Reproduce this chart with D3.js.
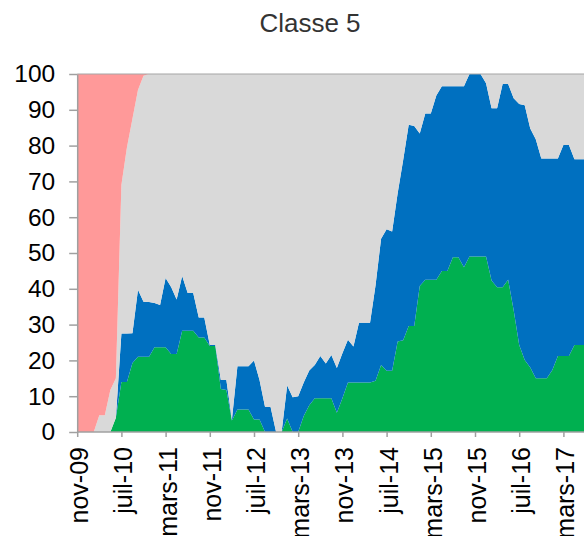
<!DOCTYPE html>
<html><head><meta charset="utf-8">
<script src="https://cdn.jsdelivr.net/npm/d3@7/dist/d3.min.js"></script>
<style>body{margin:0;background:#fff} svg{display:block}</style>
</head><body><svg id="c" width="584" height="536"></svg>
<script>
const title = "Classe 5";
const tickLabels = ["nov-09","juil-10","mars-11","nov-11","juil-12","mars-13","nov-13","juil-14","mars-15","nov-15","juil-16","mars-17"];
const yTicks = [0,10,20,30,40,50,60,70,80,90,100];
const green = [0,0,0,0,0,0,0,4,14,14,19.3,21,21,21,23.7,23.7,23.7,21.8,21.8,28.3,28.3,28.3,26.4,26.4,24,24,12,11.7,3.2,6.3,6.3,6.3,3.5,3.5,0,0,0,0,3.8,0,0,4.5,7.5,9.4,9.4,9.4,9.4,5.4,9.4,13.8,13.8,13.8,13.8,13.8,14.3,18.7,17.1,17.1,25.3,25.6,29.6,29.6,40.8,42.5,42.5,42.5,45,45,48.8,48.8,46,49,49,49,49,42.3,40.4,40.4,42.5,34,24.3,20.1,18,15,15,15,17.3,21.2,21.2,21.2,24.3,24.3,24.3];
const blue = [0,0,0,0,0,0,0,0,13.5,13.5,8.3,18.7,15.4,15.3,12.3,11.8,19.3,18.7,15.2,15.3,10.5,10.5,5.6,5.6,0.3,0.3,2.5,2.8,0.2,12.1,12.1,12.1,16.5,11,7,7,0,0,9.2,9.7,10,9.3,9.7,9.3,11.8,9.7,12.1,12.5,12.6,12,10.1,16.7,16.7,16.7,26.7,35.3,39.5,38.9,41.4,50.4,56.2,55.9,42.6,46.5,46.5,51.5,51.6,51.6,47.8,47.8,50.6,51,51,51,48.4,48.1,50,56.8,54.7,59.2,67.3,71.2,66.8,66.8,61.4,61.4,59.1,55.2,59,59,51.9,51.9,51.9];
const gray = [0,0,0,0,4.7,4.7,11.7,11,41.5,52,59.9,55.8,63.1,63.7,64,64.5,57,59.5,63,56.4,61.2,61.2,68,68,75.7,75.7,85.5,85.5,96.6,81.6,81.6,81.6,80,85.5,93,93,100,100,87,90.3,90,86.2,82.8,81.3,78.8,80.9,78.5,82.1,78,74.2,76.1,69.5,69.5,69.5,59,46,43.4,44,33.3,24,14.2,14.5,16.6,11,11,6,3.4,3.4,3.4,3.4,3.4,0,0,0,2.6,9.6,9.6,2.8,2.8,6.8,8.4,8.7,15.2,18.2,23.6,23.6,23.6,23.6,19.8,19.8,23.8,23.8,23.8];
const pink = [100,100,100,100,95.3,95.3,88.3,85,31,20.5,12.5,4.5,0.5,0,0,0,0,0,0,0,0,0,0,0,0,0,0,0,0,0,0,0,0,0,0,0,0,0,0,0,0,0,0,0,0,0,0,0,0,0,0,0,0,0,0,0,0,0,0,0,0,0,0,0,0,0,0,0,0,0,0,0,0,0,0,0,0,0,0,0,0,0,0,0,0,0,0,0,0,0,0,0,0];

const keys = ["green","blue","gray","pink"];
const colors = {green:"#00B050", blue:"#0070C0", gray:"#D9D9D9", pink:"#FF9999"};
const rows = green.map((g,i)=>({i:i, green:g, blue:blue[i], gray:gray[i], pink:pink[i]}));
const series = d3.stack().keys(keys)(rows);

const svg = d3.select("#c");
const x = d3.scaleLinear().domain([0, green.length-1]).range([77.2, 585.5]);
const y = d3.scaleLinear().domain([0,100]).range([432, 74]);

const area = d3.area().x((d,i)=>x(i)).y0(d=>y(d[0])).y1(d=>y(d[1]));
svg.append("g").selectAll("path").data(series).join("path")
  .attr("d", area).attr("fill", d=>colors[d.key]).attr("stroke", "none");

svg.append("line").attr("x1", x(0)).attr("x2", 584).attr("y1", y(100)).attr("y2", y(100))
  .attr("stroke", "#A6A6A6").attr("stroke-width", 1.2);

const axisColor = "#A0A0A0";
const font = "'Liberation Sans', Arial, sans-serif";

const ya = svg.append("g").attr("transform", `translate(${x(0)},0)`)
  .call(d3.axisLeft(y).tickValues(yTicks).tickSize(8).tickSizeOuter(0).tickPadding(14));
ya.select(".domain").attr("stroke", axisColor).attr("stroke-width", 1.5);
ya.selectAll(".tick line").attr("stroke", axisColor).attr("stroke-width", 1.5);
ya.selectAll("text").attr("font-family", font).attr("font-size", 24.5).attr("fill", "#000");

const xa = svg.append("g").attr("transform", `translate(0,${y(0)})`)
  .call(d3.axisBottom(x).tickValues(tickLabels.map((_,k)=>k*8)).tickFormat((d,k)=>tickLabels[k]).tickSize(5).tickSizeOuter(0));
xa.select(".domain").attr("stroke", axisColor).attr("stroke-width", 1.5).attr("d", `M${x(0)},0H584`);
xa.selectAll(".tick line").attr("stroke", axisColor).attr("stroke-width", 1.5);
xa.selectAll("text").attr("font-family", font).attr("font-size", 25).attr("fill", "#000")
  .attr("transform", "rotate(-90)").attr("text-anchor", "end")
  .attr("x", -15).attr("y", 0).attr("dy", "0.42em");

svg.append("text").attr("x", 310).attr("y", 32).attr("text-anchor", "middle")
  .attr("font-family", font).attr("font-size", 26).attr("fill", "#333").text(title);
</script></body></html>
